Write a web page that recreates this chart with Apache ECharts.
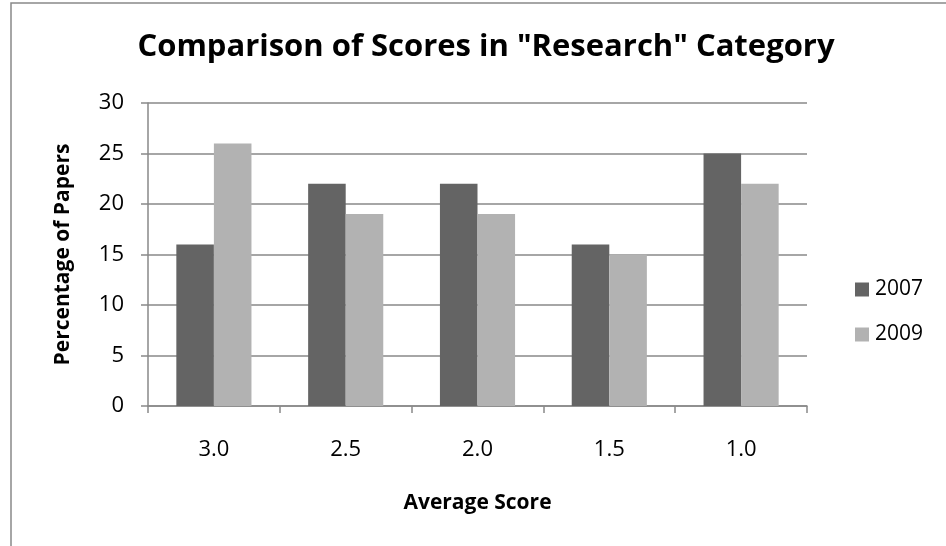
<!DOCTYPE html>
<html>
<head>
<meta charset="utf-8">
<script src="https://cdn.jsdelivr.net/npm/echarts@6/dist/echarts.min.js"></script>
<style>
  html, body { margin: 0; padding: 0; background: #fff; }
  #chart { width: 946px; height: 546px; }
</style>
</head>
<body>
<div id="chart"></div>
<script>
// Average score buckets (x axis)
const categories = ['3.0', '2.5', '2.0', '1.5', '1.0'];
// Percentage of papers in each bucket, per year
const values2007 = [16, 22, 22, 16, 25];
const values2009 = [26, 19, 19, 15, 22];
// Y axis ticks
const yTicks = [0, 5, 10, 15, 20, 25, 30];

const FONT = '"Open Sans", "Liberation Sans", sans-serif';
const AXIS_GRAY = '#898989';

const chart = echarts.init(document.getElementById('chart'), null, { renderer: 'canvas' });

chart.setOption({
  backgroundColor: '#ffffff',
  animation: false,
  graphic: [{
    type: 'rect',
    shape: { x: 11, y: 3, width: 1000, height: 700 },
    style: { fill: 'none', stroke: AXIS_GRAY, lineWidth: 1.5 },
    silent: true
  }],
  title: {
    text: 'Comparison of Scores in "Research" Category',
    left: 481,
    textAlign: 'center',
    top: 27,
    textStyle: { fontFamily: FONT, fontWeight: 'bold', fontSize: 31, color: '#000' }
  },
  legend: {
    orient: 'vertical',
    left: 850,
    top: 274,
    itemWidth: 14,
    itemHeight: 14,
    itemGap: 24,
    icon: 'rect',
    textStyle: { fontFamily: FONT, fontSize: 21, color: '#000', padding: [0, 0, 0, 1] },
    data: ['2007', '2009']
  },
  grid: { left: 148, right: 139, top: 103, bottom: 140 },
  xAxis: {
    type: 'category',
    data: categories,
    name: 'Average Score',
    nameLocation: 'middle',
    nameGap: 87,
    nameTextStyle: { fontFamily: FONT, fontWeight: 'bold', fontSize: 21, color: '#000' },
    axisLine: { lineStyle: { color: AXIS_GRAY, width: 1.5 } },
    axisTick: { show: true, length: 7, lineStyle: { color: AXIS_GRAY, width: 1.5 } },
    axisLabel: { fontFamily: FONT, fontSize: 22, color: '#000', margin: 33 }
  },
  yAxis: {
    type: 'value',
    min: yTicks[0],
    max: yTicks[yTicks.length - 1],
    interval: 5,
    name: 'Percentage of Papers',
    nameLocation: 'middle',
    nameGap: 74,
    nameTextStyle: { fontFamily: FONT, fontWeight: 'bold', fontSize: 21, color: '#000' },
    axisLine: { show: true, lineStyle: { color: AXIS_GRAY, width: 1.5 } },
    axisTick: { show: true, length: 7, lineStyle: { color: AXIS_GRAY, width: 1.5 } },
    axisLabel: { fontFamily: FONT, fontSize: 22, color: '#000', margin: 24 },
    splitLine: { lineStyle: { color: AXIS_GRAY, width: 1.5 } }
  },
  series: [
    {
      name: '2007',
      type: 'bar',
      data: values2007,
      barGap: '0%',
      barCategoryGap: '43%',
      itemStyle: { color: '#646464' }
    },
    {
      name: '2009',
      type: 'bar',
      data: values2009,
      barGap: '0%',
      barCategoryGap: '43%',
      itemStyle: { color: '#b2b2b2' }
    }
  ]
});
</script>
</body>
</html>
